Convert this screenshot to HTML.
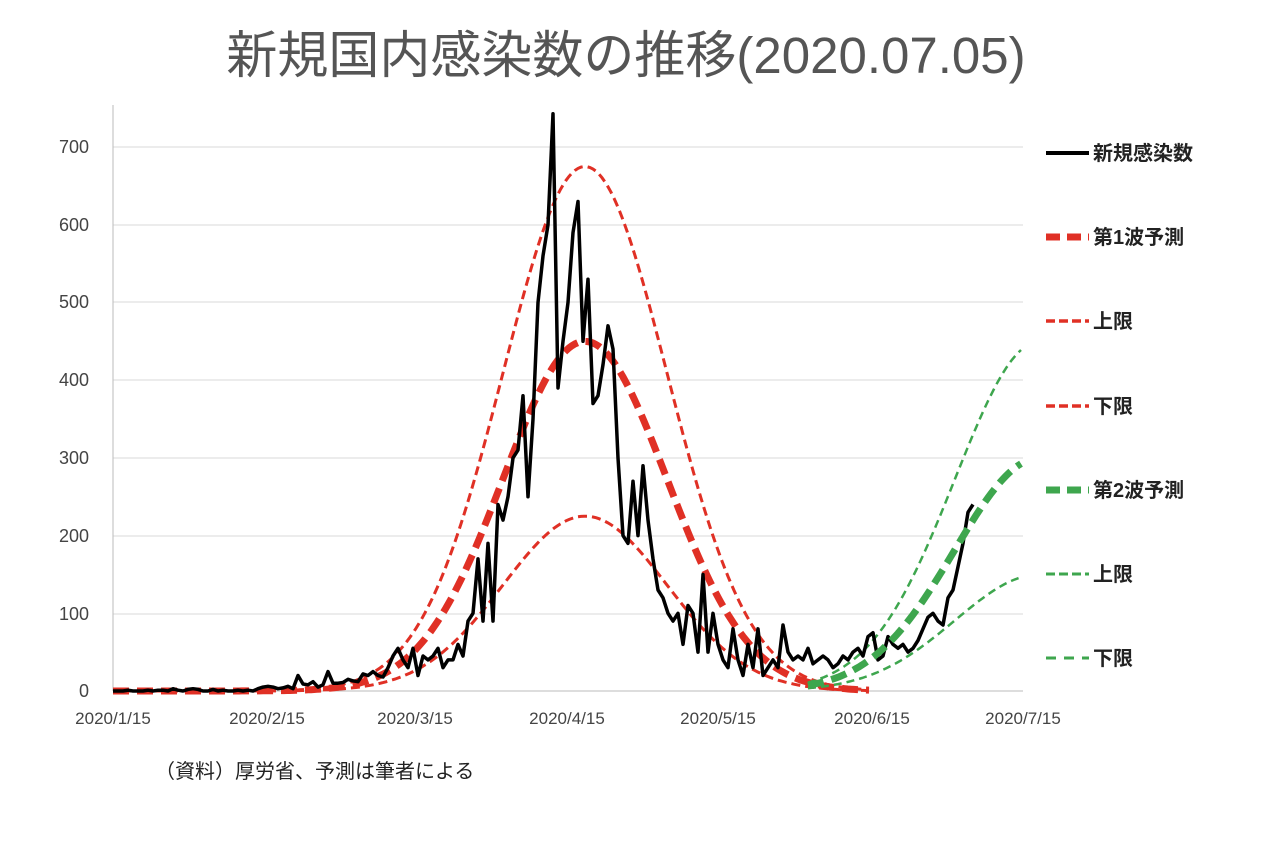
<!DOCTYPE html>
<html><head><meta charset="utf-8"><style>
html,body{margin:0;padding:0;background:#fff;}
svg{display:block;}
text{font-family:"Liberation Sans","Noto Sans CJK JP",sans-serif;}
</style></head><body>
<svg id="s" width="1280" height="854" xmlns="http://www.w3.org/2000/svg">
<text x="626" y="73" text-anchor="middle" font-size="51" fill="#555">新規国内感染数の推移(2020.07.05)</text>
<g stroke="#d9d9d9" stroke-width="1">
<line x1="113" x2="1023" y1="147" y2="147"/><line x1="113" x2="1023" y1="225" y2="225"/>
<line x1="113" x2="1023" y1="302" y2="302"/><line x1="113" x2="1023" y1="380" y2="380"/>
<line x1="113" x2="1023" y1="458" y2="458"/><line x1="113" x2="1023" y1="536" y2="536"/>
<line x1="113" x2="1023" y1="614" y2="614"/>
</g>
<line x1="113" x2="113" y1="105" y2="691" stroke="#bbb"/>
<line x1="113" x2="1023" y1="691" y2="691" stroke="#bbb"/>
<g font-size="18" fill="#444" text-anchor="end">
<text x="89" y="153">700</text><text x="89" y="231">600</text><text x="89" y="308">500</text>
<text x="89" y="386">400</text><text x="89" y="464">300</text><text x="89" y="542">200</text>
<text x="89" y="620">100</text><text x="89" y="697">0</text>
</g>
<g font-size="17" fill="#444" text-anchor="middle">
<text x="113" y="724">2020/1/15</text><text x="267" y="724">2020/2/15</text><text x="415" y="724">2020/3/15</text>
<text x="567" y="724">2020/4/15</text><text x="718" y="724">2020/5/15</text><text x="872" y="724">2020/6/15</text>
<text x="1023" y="724">2020/7/15</text>
</g>
<text x="155" y="778" font-size="20" fill="#222">（資料）厚労省、予測は筆者による</text>
<g id="series"></g>
<g font-size="20" fill="#222" font-weight="bold">
<line x1="1046" x2="1089" y1="153" y2="153" stroke="#000" stroke-width="4"/><text x="1093" y="160">新規感染数</text>
<line x1="1046" x2="1089" y1="237" y2="237" stroke="#e03025" stroke-width="7" stroke-dasharray="14,7"/><text x="1093" y="244">第1波予測</text>
<line x1="1046" x2="1089" y1="321" y2="321" stroke="#e03025" stroke-width="3.5" stroke-dasharray="9,4"/><text x="1093" y="328">上限</text>
<line x1="1046" x2="1089" y1="406" y2="406" stroke="#e03025" stroke-width="3.5" stroke-dasharray="9,4"/><text x="1093" y="413">下限</text>
<line x1="1046" x2="1089" y1="490" y2="490" stroke="#3ea64e" stroke-width="7" stroke-dasharray="14,7"/><text x="1093" y="497">第2波予測</text>
<line x1="1046" x2="1089" y1="574" y2="574" stroke="#3ea64e" stroke-width="3" stroke-dasharray="9,4"/><text x="1093" y="581">上限</text>
<line x1="1046" x2="1089" y1="658" y2="658" stroke="#3ea64e" stroke-width="3" stroke-dasharray="10,8"/><text x="1093" y="665">下限</text>
</g>
</svg>
<script>
var d=[0,0,0,1,0,0,0,1,0,1,1,0,3,1,0,2,3,
2,0,0,2,0,1,0,0,1,0,1,0,3,5,6,5,3,4,6,3,20,9,8,12,5,8,25,10,10,
11,15,13,12,22,20,25,20,18,30,45,55,40,30,55,20,45,40,45,55,30,40,40,60,45,90,100,170,90,190,90,
240,220,250,300,310,380,250,350,500,560,600,743,390,450,500,590,630,450,530,370,380,420,470,440,300,200,190,270,200,290,
220,170,130,120,100,90,100,60,110,100,50,150,50,100,60,40,30,80,40,20,60,30,80,20,30,40,30,85,50,40,45,
40,55,35,40,45,40,30,35,45,40,50,55,45,70,75,40,45,70,60,55,60,50,55,65,80,95,100,90,85,120,
130,160,190,230,240];
function X(i){return 113+i*5.0;}function Y(v){return 691-v*0.777;}
var p="";d.forEach(function(v,i){p+=(i?"L":"M")+X(i).toFixed(1)+","+Y(v).toFixed(1);});
function g(A,c,s,x0,x1){var q="";for(var x=x0;x<=x1;x+=3){var v=A*Math.exp(-Math.pow(x-c,2)/(2*s*s));q+=(x==x0?"M":"L")+x+","+Y(v).toFixed(1);}return q;}
var h="";
h+='<path d="'+g(675,585,82,113,870)+'" fill="none" stroke="#e03025" stroke-width="3" stroke-dasharray="9,5"/>';
h+='<path d="'+g(225,585,82,113,870)+'" fill="none" stroke="#e03025" stroke-width="3" stroke-dasharray="9,5"/>';
h+='<path d="'+g(450,585,82,113,870)+'" fill="none" stroke="#e03025" stroke-width="7" stroke-dasharray="16,8"/>';
h+='<path d="'+g(450,1040,85,808,1023)+'" fill="none" stroke="#3ea64e" stroke-width="2.5" stroke-dasharray="8,5"/>';
h+='<path d="'+g(150,1040,85,808,1023)+'" fill="none" stroke="#3ea64e" stroke-width="2.5" stroke-dasharray="8,5"/>';
h+='<path d="'+p+'" fill="none" stroke="#000" stroke-width="3.5" stroke-linejoin="round"/>';
h+='<path d="'+g(300,1040,85,808,1023)+'" fill="none" stroke="#3ea64e" stroke-width="7" stroke-dasharray="16,8"/>';
document.getElementById("series").innerHTML=h;
</script>
</body></html>
